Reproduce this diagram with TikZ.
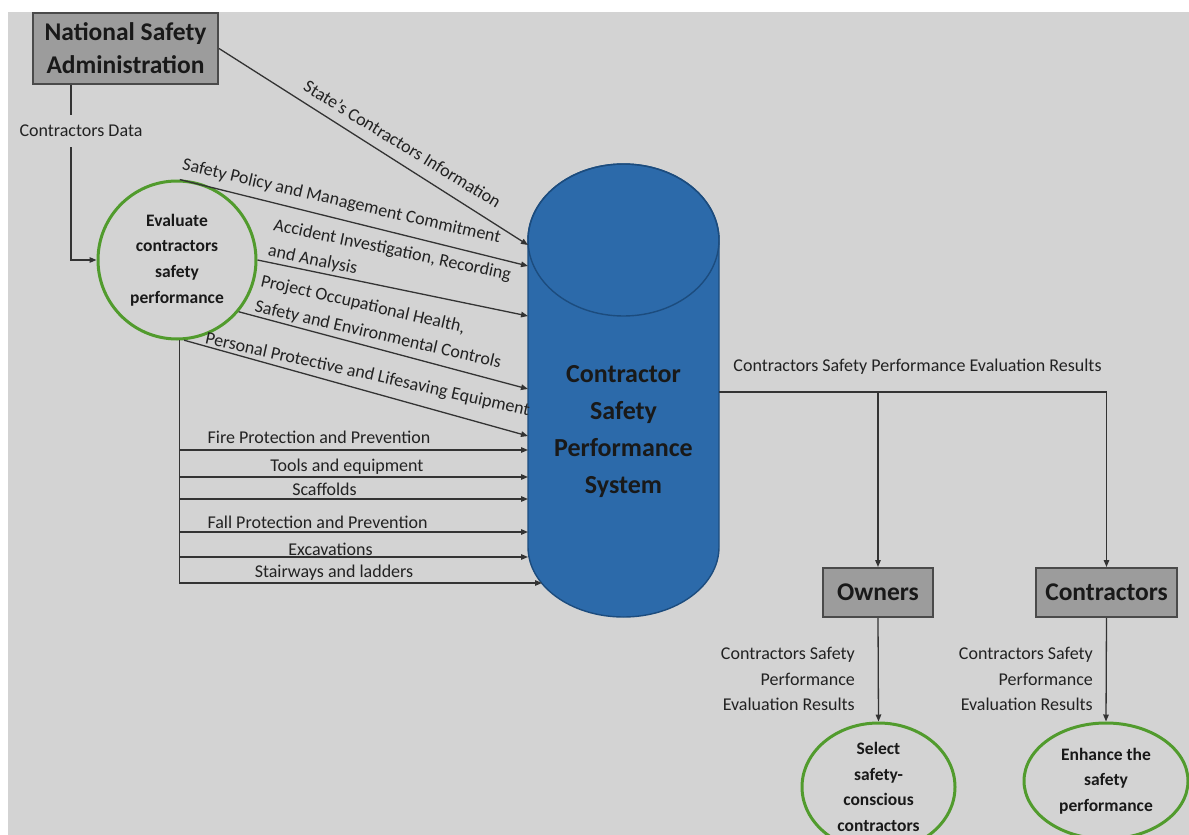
\documentclass[tikz,border=0pt]{standalone}
\usepackage{fontspec}
\setmainfont{Carlito}
\usetikzlibrary{arrows.meta,shapes.geometric}
\definecolor{bg}{HTML}{D3D3D3}
\definecolor{linec}{HTML}{333333}
\definecolor{txt}{HTML}{222222}
\definecolor{boxfill}{HTML}{9C9C9C}
\definecolor{boxborder}{HTML}{4A4A4A}
\definecolor{cylfill}{HTML}{2C6AAA}
\definecolor{cylborder}{HTML}{1C4C7E}
\definecolor{procgreen}{HTML}{519B2D}
\tikzset{
  conn/.style={draw=linec, line width=1.3pt, -{Triangle[length=7pt,width=5.5pt]}},
  plain/.style={draw=linec, line width=1.3pt},
  lbl/.style={font=\fontsize{18}{21}\selectfont, text=txt, inner sep=0pt},
  rlbl/.style={font=\fontsize{18}{25.5}\selectfont, text=txt, inner sep=0pt, align=right, anchor=east},
  dlbl/.style={font=\fontsize{18}{26}\selectfont, text=txt, inner sep=0pt},
  entity/.style={draw=boxborder, line width=2pt, fill=boxfill, text=black!90,
    font=\bfseries\fontsize{25.5}{33}\selectfont, align=center, inner sep=0pt},
  process/.style={draw=procgreen, line width=3pt, text=black!90,
    font=\bfseries\fontsize{17.5}{25.7}\selectfont, align=center, inner sep=0pt},
}
\begin{document}
\begin{tikzpicture}[x=1pt,y=-1pt]
\useasboundingbox (0,0) rectangle (1189,835);
\clip (0,0) rectangle (1189,835);
\fill[white] (0,0) rectangle (1189,835);
\fill[bg] (8,12) rectangle (1189,835);

% cylinder
\fill[cylfill] (528,240) -- (528,547) arc[start angle=180,end angle=0,x radius=95.5,y radius=70]
  -- (719,240) arc[start angle=0,end angle=-180,x radius=95.5,y radius=76] -- cycle;
\draw[cylborder, line width=1.4pt] (528,240) -- (528,547) arc[start angle=180,end angle=0,x radius=95.5,y radius=70]
  -- (719,240) arc[start angle=0,end angle=-180,x radius=95.5,y radius=76] -- cycle;
\draw[cylborder, line width=1.4pt] (623.5,240) ellipse [x radius=95.5, y radius=76];
\node[font=\bfseries\fontsize{26}{37}\selectfont, align=center, text=black!90, inner sep=0pt] (cps) at (623.5,432)
  {Contractor\\Safety\\Performance\\System};

% entry points on the cylinder
\coordinate (in1) at (528,245);
\coordinate (in2) at (528,266);
\coordinate (in3) at (528,316);
\coordinate (in4) at (528,389);
\coordinate (in5) at (528,436);
\coordinate (in6) at (528,450);
\coordinate (in7) at (528,477);
\coordinate (in8) at (528,499);
\coordinate (in9) at (528,532);
\coordinate (in10) at (528,557);
\coordinate (in11) at (542,583);
\coordinate (out) at (719,392);
\coordinate (br) at (1106.5,392);
\coordinate (cd) at (71,260);

% nodes
\node[entity, minimum width=185pt, minimum height=71pt] (nsa) at (125.5,48.5) {National Safety\\Administration};
\node[process, circle, minimum size=158pt] (ev) at (177,260) {Evaluate\\contractors\\safety\\performance};
\node[entity, minimum width=110pt, minimum height=49pt] (own) at (878,592.5) {Owners};
\node[entity, minimum width=141pt, minimum height=49pt] (con) at (1106.5,592.5) {Contractors};
\node[process, ellipse, minimum width=153pt, minimum height=128pt] (sel) at (878.5,787) {Select\\safety-\\conscious\\contractors};
\node[process, ellipse, minimum width=164pt, minimum height=116pt] (enh) at (1106,781) {Enhance the\\safety\\performance};

% connectors
\draw[conn] (nsa.south -| cd) -- (cd) -- (ev.west);
\node[lbl, fill=bg, inner xsep=2pt, inner ysep=10pt] (cdl) at (81,131) {Contractors Data};

\draw[conn] (nsa.east) -- (in1);
\draw[conn] (ev.88) -- (in2);
\draw[conn] (ev.east) -- (in3);
\draw[conn] (ev.-40) -- (in4);
\draw[conn] (ev.-85) -- (in5);
\draw[conn] (ev.-88) |- (in6);
\draw[conn] (ev.-88) |- (in7);
\draw[conn] (ev.-88) |- (in8);
\draw[conn] (ev.-88) |- (in9);
\draw[conn] (ev.-88) |- (in10);
\draw[conn] (ev.-88) |- (in11);

\draw[plain] (out) -- (br);
\draw[conn] (out -| own) -- (own.north);
\draw[conn] (br) -- (con.north);
\draw[conn] (own.south) -- (sel.north);
\draw[conn] (con.south) -- (enh.north);

% diagonal labels
\node[dlbl, rotate=-31.5] (l1) at (402.5,144) {State’s Contractors Information};
\node[dlbl, rotate=-13] (l2) at (341.5,202) {Safety Policy and Management Commitment};
\node[dlbl, rotate=-12, anchor=west, align=left] (l3) at (271,238) {Accident Investigation, Recording\\and Analysis};
\node[dlbl, rotate=-13, anchor=west, align=left] (l4) at (258,294) {Project Occupational Health,\\Safety and Environmental Controls};
\node[dlbl, rotate=-12.5] (l5) at (367.5,375) {Personal Protective and Lifesaving Equipment};

% horizontal labels
\node[lbl] (l6) at (319,437) {Fire Protection and Prevention};
\node[lbl] (l7) at (347,467) {Tools and equipment};
\node[lbl] (l8) at (324.5,489) {Scaffolds};
\node[lbl] (l9) at (317.5,522) {Fall Protection and Prevention};
\node[lbl] (l10) at (330.5,549) {Excavations};
\node[lbl] (l11) at (334,573) {Stairways and ladders};

\node[lbl] (r0) at (917.5,367) {Contractors Safety Performance Evaluation Results};
\node[rlbl] (r1) at (855,679) {Contractors Safety\\Performance\\Evaluation Results};
\node[rlbl] (r2) at (1093,679) {Contractors Safety\\Performance\\Evaluation Results};
\end{tikzpicture}
\end{document}
